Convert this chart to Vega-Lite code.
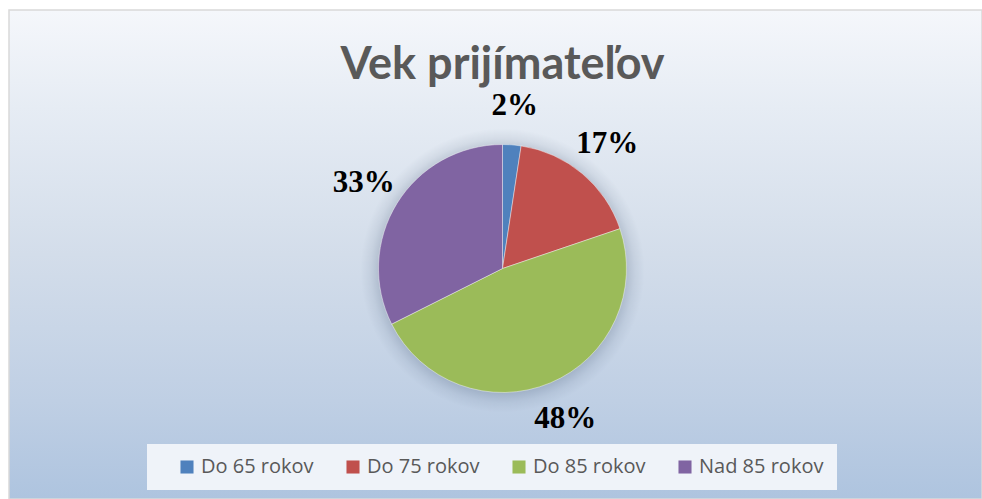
{
  "$schema": "https://vega.github.io/schema/vega-lite/v6.json",
  "width": 973,
  "height": 489,
  "autosize": {"type": "none"},
  "padding": {"left": 9, "top": 10, "right": 0, "bottom": 0},
  "background": "white",
  "title": {
    "text": "Vek prijímateľov",
    "font": "Lato",
    "fontSize": 45,
    "fontWeight": "bold",
    "color": "#595959",
    "anchor": "middle",
    "frame": "group",
    "orient": "top",
    "baseline": "alphabetic",
    "offset": -68,
    "dx": 7,
    "dy": 47
  },
  "data": {
    "values": [
      {"category": "Do 65 rokov", "value": 2.4, "label": "2%"},
      {"category": "Do 75 rokov", "value": 17.4, "label": "17%"},
      {"category": "Do 85 rokov", "value": 47.8, "label": "48%"},
      {"category": "Nad 85 rokov", "value": 32.4, "label": "33%"}
    ]
  },
  "layer": [
    {
      "data": {"values": [{"panel": "background"}]},
      "mark": {
        "type": "rect",
        "stroke": "#d9d9d9",
        "strokeWidth": 1.5,
        "fill": {
          "gradient": "linear",
          "x1": 0, "y1": 0, "x2": 0, "y2": 1,
          "stops": [
            {"offset": 0, "color": "#f5f7fb"},
            {"offset": 0.2, "color": "#e6ecf4"},
            {"offset": 0.5, "color": "#d3ddea"},
            {"offset": 0.8, "color": "#bfcfe4"},
            {"offset": 1, "color": "#aec4df"}
          ]
        }
      },
      "encoding": {}
    },
    {
      "data": {"values": [{"panel": "shadow"}]},
      "mark": {
        "type": "arc",
        "theta": 0,
        "theta2": 6.2832,
        "outerRadius": 142,
        "xOffset": 7,
        "yOffset": 16,
        "fill": {
          "gradient": "radial",
          "x1": 0.5, "y1": 0.5, "r1": 0,
          "x2": 0.5, "y2": 0.5, "r2": 0.5,
          "stops": [
            {"offset": 0, "color": "rgba(50,70,100,0.22)"},
            {"offset": 0.86, "color": "rgba(50,70,100,0.22)"},
            {"offset": 0.93, "color": "rgba(50,70,100,0.08)"},
            {"offset": 1, "color": "rgba(50,70,100,0)"}
          ]
        }
      },
      "encoding": {}
    },
    {
      "mark": {"type": "arc", "outerRadius": 124, "xOffset": 7, "yOffset": 14, "stroke": "#ffffff", "strokeWidth": 0.6, "strokeOpacity": 0.7},
      "encoding": {
        "theta": {"field": "value", "type": "quantitative", "stack": true},
        "order": {"field": "category", "type": "nominal"},
        "color": {
          "field": "category",
          "type": "nominal",
          "scale": {"range": ["#4f81bd", "#c0504d", "#9bbb59", "#8064a2"]},
          "legend": {
            "title": null,
            "orient": "none",
            "legendX": 138,
            "legendY": 434,
            "direction": "horizontal",
            "columns": 4,
            "fillColor": "#eff3f9",
            "padding": 13,
            "symbolType": "square",
            "symbolSize": 170,
            "symbolStrokeWidth": 0,
            "symbolOpacity": 1,
            "labelFont": "Open Sans",
            "labelFontSize": 20,
            "labelColor": "#595959",
            "labelOffset": 4,
            "columnPadding": 12,
            "symbolOffset": 17
          }
        }
      }
    },
    {
      "mark": {"type": "text", "radius": 163, "xOffset": 7, "yOffset": 14, "font": "Liberation Serif", "fontSize": 31, "fontWeight": "bold", "color": "#000000", "align": "center", "baseline": "middle"},
      "encoding": {
        "theta": {"field": "value", "type": "quantitative", "stack": true},
        "order": {"field": "category", "type": "nominal"},
        "text": {"field": "label"},
        "detail": {"field": "category"}
      }
    }
  ],
  "config": {
    "view": {"stroke": null}
  }
}
